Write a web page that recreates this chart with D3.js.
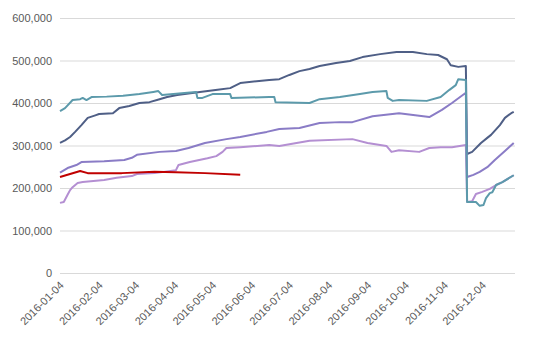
<!DOCTYPE html>
<html>
<head>
<meta charset="utf-8">
<script src="https://cdn.jsdelivr.net/npm/d3@7"></script>
<style>
  html, body { margin: 0; padding: 0; background: #fff; }
  svg { display: block; }
  .tick text { font-family: "Liberation Sans", Arial, sans-serif; font-size: 11px; fill: #595959; }
</style>
</head>
<body>
<svg id="chart" width="538" height="338"></svg>
<script>
// Daily series, sampled at the dates where the curves change direction or step.
const seriesDark = [
  ["2016-01-04", 306000], ["2016-01-08", 312000], ["2016-01-12", 320000], ["2016-01-16", 332000],
  ["2016-01-21", 348000], ["2016-01-26", 365000], ["2016-02-01", 371000], ["2016-02-04", 374000],
  ["2016-02-15", 376000], ["2016-02-20", 388000], ["2016-02-28", 393000], ["2016-03-07", 400000],
  ["2016-03-15", 402000], ["2016-03-23", 409000], ["2016-03-29", 414000], ["2016-04-06", 419000],
  ["2016-04-12", 421000], ["2016-04-24", 426000], ["2016-05-08", 431000], ["2016-05-18", 435000],
  ["2016-05-26", 447000], ["2016-06-10", 452000], ["2016-06-18", 454000], ["2016-06-26", 456000],
  ["2016-07-04", 466000], ["2016-07-12", 475000], ["2016-07-20", 480000], ["2016-07-28", 487000],
  ["2016-08-10", 494000], ["2016-08-21", 499000], ["2016-08-31", 508000], ["2016-09-14", 515000],
  ["2016-09-27", 520000], ["2016-10-10", 520000], ["2016-10-21", 515000], ["2016-10-30", 513000],
  ["2016-11-06", 503000], ["2016-11-09", 489000], ["2016-11-15", 485000], ["2016-11-21", 487000],
  ["2016-11-22", 280000], ["2016-11-26", 285000], ["2016-12-03", 306000], ["2016-12-08", 318000],
  ["2016-12-11", 325000], ["2016-12-18", 348000], ["2016-12-22", 365000], ["2016-12-27", 376000],
  ["2016-12-29", 379000]
];

const seriesTeal = [
  ["2016-01-04", 381000], ["2016-01-08", 388000], ["2016-01-14", 407000], ["2016-01-20", 409000],
  ["2016-01-22", 412000], ["2016-01-25", 407000], ["2016-01-29", 414000], ["2016-02-10", 415000],
  ["2016-02-23", 417000], ["2016-03-07", 421000], ["2016-03-18", 426000], ["2016-03-22", 428000],
  ["2016-03-25", 419000], ["2016-04-03", 421000], ["2016-04-14", 424000], ["2016-04-21", 426000],
  ["2016-04-22", 412000], ["2016-04-26", 412000], ["2016-05-04", 421000], ["2016-05-18", 421000],
  ["2016-05-19", 412000], ["2016-06-18", 414000], ["2016-06-22", 414000], ["2016-06-23", 402000],
  ["2016-07-20", 400000], ["2016-07-28", 409000], ["2016-08-13", 414000], ["2016-08-29", 421000],
  ["2016-09-08", 426000], ["2016-09-19", 428000], ["2016-09-20", 412000], ["2016-09-24", 405000],
  ["2016-09-29", 407000], ["2016-10-21", 405000], ["2016-11-01", 414000], ["2016-11-08", 431000],
  ["2016-11-13", 442000], ["2016-11-15", 456000], ["2016-11-21", 454000], ["2016-11-22", 167000],
  ["2016-11-29", 167000], ["2016-12-02", 158000], ["2016-12-05", 160000], ["2016-12-07", 176000],
  ["2016-12-10", 188000], ["2016-12-12", 190000], ["2016-12-15", 207000], ["2016-12-20", 214000],
  ["2016-12-29", 230000]
];

const seriesPurple = [
  ["2016-01-04", 236000], ["2016-01-10", 247000], ["2016-01-17", 254000], ["2016-01-21", 261000],
  ["2016-02-08", 263000], ["2016-02-24", 266000], ["2016-03-01", 271000], ["2016-03-05", 278000],
  ["2016-03-23", 285000], ["2016-04-05", 287000], ["2016-04-15", 294000], ["2016-04-28", 306000],
  ["2016-05-15", 315000], ["2016-05-26", 320000], ["2016-06-16", 332000], ["2016-06-26", 339000],
  ["2016-07-12", 341000], ["2016-07-28", 353000], ["2016-08-13", 355000], ["2016-08-23", 355000],
  ["2016-09-08", 369000], ["2016-09-29", 376000], ["2016-10-23", 367000], ["2016-11-02", 384000],
  ["2016-11-10", 400000], ["2016-11-21", 424000], ["2016-11-22", 226000], ["2016-11-27", 231000],
  ["2016-12-02", 238000], ["2016-12-08", 249000], ["2016-12-14", 266000], ["2016-12-22", 287000],
  ["2016-12-29", 306000]
];

const seriesOrchid = [
  ["2016-01-04", 165000], ["2016-01-07", 167000], ["2016-01-10", 184000], ["2016-01-12", 195000],
  ["2016-01-14", 202000], ["2016-01-18", 212000], ["2016-01-22", 214000], ["2016-02-08", 219000],
  ["2016-02-18", 224000], ["2016-03-01", 228000], ["2016-03-05", 233000], ["2016-03-19", 235000],
  ["2016-04-05", 242000], ["2016-04-07", 254000], ["2016-04-16", 261000], ["2016-04-30", 270000],
  ["2016-05-07", 275000], ["2016-05-12", 285000], ["2016-05-15", 294000], ["2016-05-26", 296000],
  ["2016-06-18", 301000], ["2016-06-26", 299000], ["2016-07-20", 311000], ["2016-08-23", 315000],
  ["2016-09-04", 306000], ["2016-09-19", 299000], ["2016-09-23", 285000], ["2016-09-29", 289000],
  ["2016-10-15", 285000], ["2016-10-23", 294000], ["2016-11-01", 296000], ["2016-11-10", 296000],
  ["2016-11-21", 301000], ["2016-11-22", 167000], ["2016-11-26", 169000], ["2016-11-29", 186000],
  ["2016-12-04", 191000], ["2016-12-10", 198000], ["2016-12-15", 207000], ["2016-12-20", 214000],
  ["2016-12-29", 230000]
];

const seriesRed = [
  ["2016-01-04", 226000], ["2016-01-12", 233000], ["2016-01-20", 240000], ["2016-01-26", 235000],
  ["2016-02-22", 235000], ["2016-03-19", 238000], ["2016-04-05", 237000], ["2016-04-28", 235000],
  ["2016-05-26", 231000]
];

const yTicks = [0, 100000, 200000, 300000, 400000, 500000, 600000];
const xTickDates = ["2016-01-04", "2016-02-04", "2016-03-04", "2016-04-04", "2016-05-04", "2016-06-04",
                    "2016-07-04", "2016-08-04", "2016-09-04", "2016-10-04", "2016-11-04", "2016-12-04"];

const parse = d3.timeParse("%Y-%m-%d");
const fmtDate = d3.timeFormat("%Y-%m-%d");

const svg = d3.select("#chart");
const plotLeft = 60, plotRight = 515, plotTop = 18, plotBottom = 273;

const x = d3.scaleTime()
  .domain([parse("2016-01-04"), parse("2016-12-30")])
  .range([plotLeft, plotRight]);

const y = d3.scaleLinear()
  .domain([0, 600000])
  .range([plotBottom, plotTop]);

// Horizontal gridlines with value labels
const yAxis = d3.axisLeft(y)
  .tickValues(yTicks)
  .tickFormat(d3.format(","))
  .tickSize(-(plotRight - plotLeft))
  .tickPadding(8);

const gy = svg.append("g")
  .attr("transform", `translate(${plotLeft},0)`)
  .call(yAxis);
gy.select(".domain").remove();
gy.selectAll(".tick line").attr("stroke", "#d9d9d9").attr("stroke-width", 1);
gy.selectAll(".tick text").attr("x", -8);

// Date axis with slanted labels
const xAxis = d3.axisBottom(x)
  .tickValues(xTickDates.map(parse))
  .tickFormat(fmtDate)
  .tickSize(0);

const gx = svg.append("g")
  .attr("transform", `translate(0,${plotBottom})`)
  .call(xAxis);
gx.select(".domain").remove();
gx.selectAll(".tick text")
  .attr("text-anchor", "end")
  .attr("dy", null)
  .attr("y", 0)
  .attr("transform", "translate(4,13) rotate(-45)");

const line = d3.line()
  .x(d => x(parse(d[0])))
  .y(d => y(d[1]));

const series = [
  { data: seriesDark,   color: "#4f5f86" },
  { data: seriesOrchid, color: "#b48fd2" },
  { data: seriesPurple, color: "#8a7cc6" },
  { data: seriesTeal,   color: "#5c9aab" },
  { data: seriesRed,    color: "#c00000" }
];

svg.append("g")
  .selectAll("path")
  .data(series)
  .join("path")
  .attr("fill", "none")
  .attr("stroke", d => d.color)
  .attr("stroke-width", 2)
  .attr("stroke-linejoin", "round")
  .attr("d", d => line(d.data));
</script>
</body>
</html>
